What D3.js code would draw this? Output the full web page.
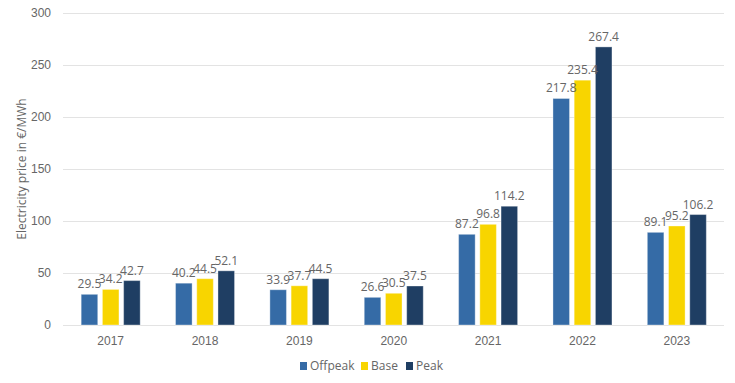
<!DOCTYPE html>
<html><head><meta charset="utf-8">
<script src="https://cdn.jsdelivr.net/npm/d3@7"></script>
<style>body{margin:0;background:#fff}svg{display:block;font-family:"Open Sans",sans-serif}</style>
</head><body><svg id="c" width="735" height="383"></svg>
<script>
const years = ["2017","2018","2019","2020","2021","2022","2023"];
const seriesNames = ["Offpeak","Base","Peak"];
const offpeak = [29.5,40.2,33.9,26.6,87.2,217.8,89.1];
const base = [34.2,44.5,37.7,30.5,96.8,235.4,95.2];
const peak = [42.7,52.1,44.5,37.5,114.2,267.4,106.2];
const yTicks = [0,50,100,150,200,250,300];
const colors = ["#356BA6","#F8D500","#1F3E63"];

const svg = d3.select("#c");
const x0 = d3.scaleBand().domain(years).range([63.5,724]).padding(0);
const x1 = d3.scaleBand().domain(seriesNames).range([-29.5,29.5]).paddingInner(0.22);
const y = d3.scaleLinear().domain([0,300]).range([325,13]);

const grid = svg.append("g");
grid.selectAll("line").data(yTicks).join("line")
  .attr("x1",63).attr("x2",724).attr("y1",d=>Math.round(y(d))+0.5).attr("y2",d=>Math.round(y(d))+0.5)
  .attr("stroke","#e3e3e3").attr("stroke-width",1);

const yAxis = d3.axisLeft(y).tickValues(yTicks).tickSize(0).tickPadding(0);
const ya = svg.append("g").attr("transform","translate(51,0)").call(yAxis);
ya.select(".domain").remove();
ya.selectAll("text").attr("fill","#666666").style("font-size","12px");

const xAxis = d3.axisBottom(x0).tickSize(0).tickPadding(0);
const xa = svg.append("g").attr("transform","translate(0,336)").call(xAxis);
xa.select(".domain").remove();
xa.selectAll("text").attr("fill","#666666").style("font-size","12px").attr("dy","0.71em");

const data = years.map((yr,i)=>({yr, vals:[offpeak[i],base[i],peak[i]]}));
const groups = svg.append("g").selectAll("g").data(data).join("g")
  .attr("transform",d=>`translate(${x0(d.yr)+x0.bandwidth()/2},0)`);
groups.selectAll("rect").data(d=>d.vals.map((v,j)=>({v,s:seriesNames[j],j}))).join("rect")
  .attr("x",d=>x1(d.s)).attr("width",x1.bandwidth())
  .attr("y",d=>y(d.v)).attr("height",d=>y(0)-y(d.v))
  .attr("fill",d=>colors[d.j]).attr("stroke","#ffffff").attr("stroke-opacity",0.35).attr("stroke-width",1);
groups.selectAll("text").data(d=>d.vals.map((v,j)=>({v,s:seriesNames[j],j}))).join("text")
  .attr("x",d=>x1(d.s)+x1.bandwidth()/2).attr("y",d=>y(d.v)-6)
  .attr("text-anchor","middle").attr("fill","#666666").style("font-size","12px")
  .text(d=>d.v.toFixed(1));

svg.append("text").attr("transform","translate(26,169) rotate(-90)")
  .attr("text-anchor","middle").attr("fill","#666666").style("font-size","12px")
  .text("Electricity price in €/MWh");

const legX = [300,361,406];
const leg = svg.append("g").selectAll("g").data(seriesNames).join("g")
  .attr("transform",(d,i)=>`translate(${legX[i]},366)`);
leg.append("rect").attr("x",0).attr("y",-4).attr("width",7).attr("height",8).attr("fill",(d,i)=>colors[i]);
leg.append("text").attr("x",10).attr("y",0).attr("dy","0.35em").attr("fill","#666666").style("font-size","12px").text(d=>d);
</script></body></html>
